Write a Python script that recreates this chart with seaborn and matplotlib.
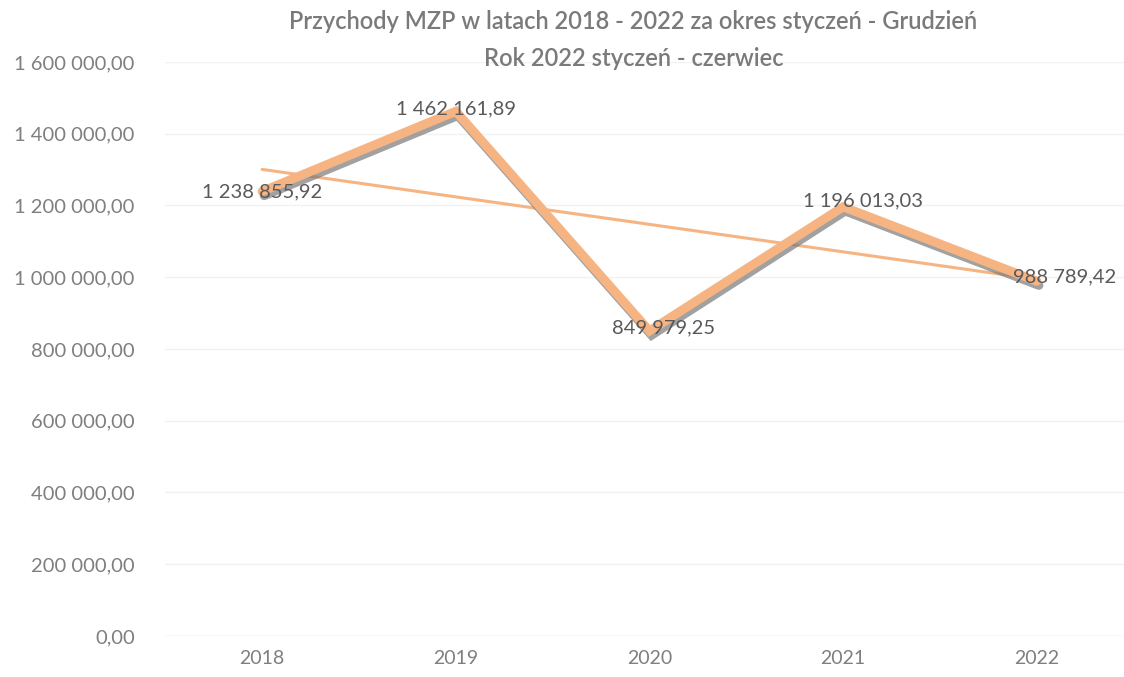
import numpy as np
import pandas as pd
import matplotlib
matplotlib.use("Agg")
import matplotlib.pyplot as plt
import matplotlib.patheffects as pe
import seaborn as sns

years = ["2018", "2019", "2020", "2021", "2022"]
values = [1238855.92, 1462161.89, 849979.25, 1196013.03, 988789.42]
y_ticks = [0, 200000, 400000, 600000, 800000, 1000000, 1200000, 1400000, 1600000]
title = "Przychody MZP w latach 2018 - 2022 za okres styczeń - Grudzień\nRok 2022 styczeń - czerwiec"

sns.set_theme(style="white")
plt.rcParams['font.family'] = ['Lato', 'DejaVu Sans']

def fmt(v):
    s = f"{v:,.2f}"
    return s.replace(",", " ").replace(".", ",")

df = pd.DataFrame({"x": np.arange(len(years)), "y": values})

fig = plt.figure(figsize=(11.24, 6.77), dpi=100)
ax = fig.add_axes([0.147, 0.0606, 0.853, 0.848])

line_col = "#F7B483"
sns.lineplot(data=df, x="x", y="y", ax=ax, color=line_col, lw=6.5,
             solid_joinstyle="miter",
             path_effects=[pe.SimpleLineShadow(offset=(1.5, -3), shadow_color="#7a7a7a", alpha=0.7),
                           pe.Normal()])

# linear trendline
coef = np.polyfit(df["x"], df["y"], 1)
tx = np.array([0, len(years) - 1])
ax.plot(tx, np.polyval(coef, tx), color=line_col, lw=2.2, zorder=1)

offsets = [(0, 0), (0, 2), (10, 2), (14, 4), (20, 3)]
for i, v in enumerate(values):
    ax.annotate(fmt(v), (i, v), xytext=offsets[i], textcoords="offset points",
                ha="center", va="center", fontsize=14.5, color="#595959", zorder=5)

ax.set_ylim(0, 1600000)
ax.set_xlim(-0.5, 4.45)
ax.set_yticks(y_ticks)
ax.set_yticklabels([fmt(t) for t in y_ticks], fontsize=14.5, color="#7f7f7f")
ax.set_xticks(range(len(years)))
ax.set_xticklabels(years, fontsize=14, color="#7f7f7f")
ax.tick_params(axis="y", pad=22, length=0)
ax.tick_params(axis="x", pad=10, length=0)
ax.yaxis.grid(True, color="#f2f2f2", lw=1)
for s in ax.spines.values():
    s.set_visible(False)
ax.axhline(0, color="#e6e6e6", lw=1, zorder=0)
ax.set_xlabel("")
ax.set_ylabel("")

fig.text(0.5635, 0.985, title, ha="center", va="top", fontsize=17,
         color="#7a7a7a", fontweight="semibold", linespacing=1.75)

fig.savefig("out.png", dpi=100, facecolor="white")
